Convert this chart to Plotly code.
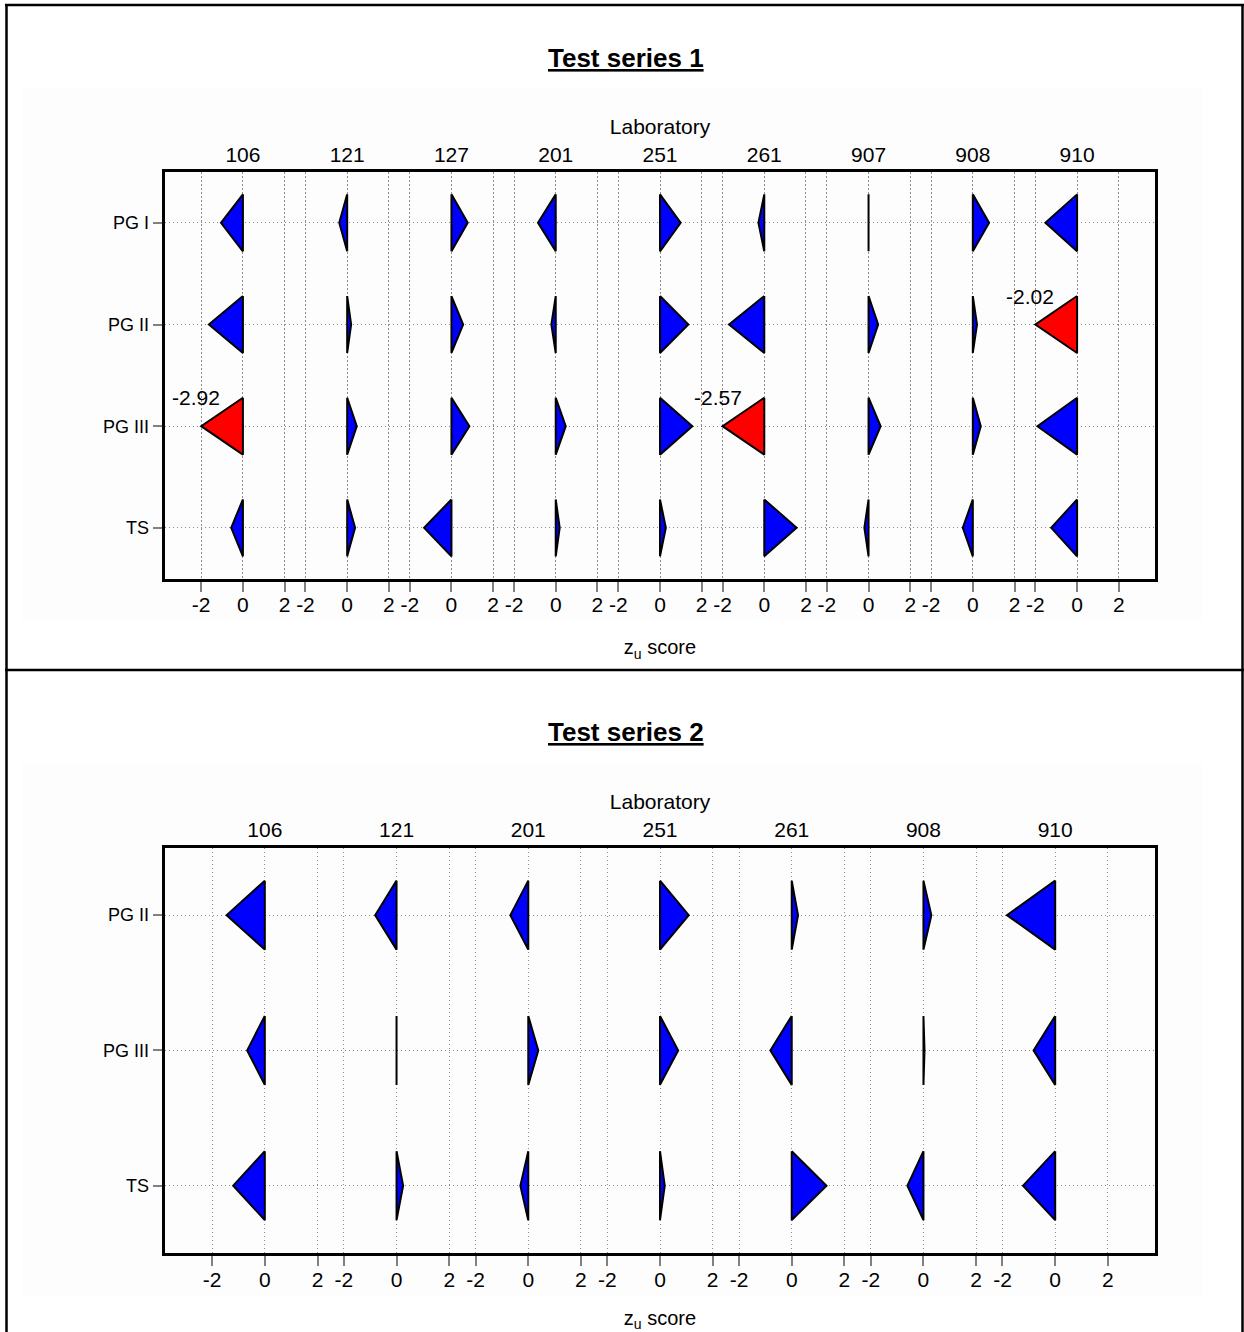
import plotly.graph_objects as go

# ---------------- data ----------------
labs_1 = ["106", "121", "127", "201", "251", "261", "907", "908", "910"]
rows_1 = ["PG I", "PG II", "PG III", "TS"]
ts1_pg1 = [-1.05, -0.38, 0.78, -0.85, 0.99, -0.28, 0.00, 0.78, -1.52]
ts1_pg2 = [-1.63, 0.19, 0.56, -0.21, 1.36, -1.69, 0.46, 0.20, -2.02]
ts1_pg3 = [-2.92, 0.46, 0.86, 0.48, 1.55, -2.57, 0.58, 0.38, -1.90]
ts1_ts = [-0.56, 0.38, -1.31, 0.19, 0.28, 1.55, -0.20, -0.48, -1.24]

labs_2 = ["106", "121", "201", "251", "261", "908", "910"]
rows_2 = ["PG II", "PG III", "TS"]
ts2_pg2 = [-1.45, -0.81, -0.68, 1.09, 0.24, 0.30, -1.83]
ts2_pg3 = [-0.67, 0.00, 0.38, 0.69, -0.81, 0.04, -0.82]
ts2_ts = [-1.20, 0.25, -0.30, 0.18, 1.32, -0.61, -1.22]

z_ticks = [-2, 0, 2]
limit = 2.0

# ---------------- style ----------------
W, H = 1244, 1332
FONT = "Liberation Sans, Arial, sans-serif"
BLUE = "#0000FF"
RED = "#FF0000"
GRID = "#8c8c8c"
GRID_DASH = "1.5px,2.5px"
SPACING = 5  # z units between laboratory columns

fig = go.Figure()
annotations = []


def px_x(p):
    return p / W


def px_y(p):
    return 1 - p / H


def build_panel(idx, labs, rows, series, half_h, x_pad, ydom):
    xa = "x" if idx == 1 else "x2"
    ya = "y" if idx == 1 else "y2"
    xtop = "x3" if idx == 1 else "x4"
    polys = {BLUE: ([], []), RED: ([], [])}
    for r, vals in enumerate(series):
        for i, z in enumerate(vals):
            off = i * SPACING
            zc = max(-limit, min(limit, z))
            col = RED if abs(z) > limit else BLUE
            xs, ys = polys[col]
            xs += [off, off + zc, off, off, None]
            ys += [r - half_h, r, r + half_h, r - half_h, None]
            if abs(z) > limit:
                annotations.append(dict(
                    x=off + zc, y=r - half_h, xref=xa, yref=ya,
                    text=f"{z:.2f}", showarrow=False, xanchor="center",
                    yanchor="middle", xshift=-5,
                    font=dict(family=FONT, size=21, color="black")))
    for col, (xs, ys) in polys.items():
        if xs:
            fig.add_trace(go.Scatter(
                x=xs, y=ys, xaxis=xa, yaxis=ya, mode="lines", fill="toself",
                fillcolor=col, line=dict(color="black", width=2),
                hoverinfo="skip", showlegend=False))
    # invisible helper trace so the top laboratory axis is drawn
    fig.add_trace(go.Scatter(x=[0], y=[0], xaxis=xtop, yaxis=ya, mode="markers",
                             marker=dict(opacity=0), hoverinfo="skip",
                             showlegend=False))
    n = len(labs)
    xr = [-x_pad, (n - 1) * SPACING + x_pad]
    tickvals, ticktext = [], []
    for i in range(n):
        for t in z_ticks:
            tickvals.append(i * SPACING + t)
            ticktext.append(str(t))
    xdom = [px_x(164.7), px_x(1155.3)]
    axis_font = dict(family=FONT, size=21, color="black")
    fig.layout["xaxis" if idx == 1 else "xaxis2"] = dict(
        domain=xdom, anchor=ya, range=xr, tickmode="array",
        tickvals=tickvals, ticktext=ticktext, ticks="outside", ticklen=10,
        tickwidth=2, tickcolor="#808080", ticklabelstandoff=-5,
        showgrid=True, gridcolor=GRID,
        griddash=GRID_DASH, gridwidth=1, showline=True, linewidth=3,
        linecolor="black", mirror=True, zeroline=False, tickfont=axis_font,
        title=dict(text="z<sub>u</sub> score", standoff=26,
                   font=dict(family=FONT, size=20, color="black")))
    fig.layout["xaxis3" if idx == 1 else "xaxis4"] = dict(
        overlaying=xa, side="top", anchor=ya, range=xr, tickmode="array",
        tickvals=[i * SPACING for i in range(n)], ticktext=labs,
        ticks="outside", ticklen=1, tickcolor="rgba(0,0,0,0)",
        showgrid=False, showline=False, zeroline=False,
        tickfont=axis_font,
        title=dict(text="Laboratory", standoff=2, font=axis_font))
    ny = len(rows)
    fig.layout["yaxis" if idx == 1 else "yaxis2"] = dict(
        domain=ydom, anchor=xa, range=[ny - 0.5, -0.5], tickmode="array",
        tickvals=list(range(ny)), ticktext=rows, ticks="outside", ticklen=9,
        tickwidth=2, tickcolor="#808080", showgrid=True, gridcolor=GRID,
        griddash=GRID_DASH, gridwidth=1, showline=True, linewidth=3,
        linecolor="black", mirror=True, zeroline=False,
        tickfont=dict(family=FONT, size=18, color="black"))


build_panel(1, labs_1, rows_1, [ts1_pg1, ts1_pg2, ts1_pg3, ts1_ts], 0.28, 3.75,
            [px_y(578.7), px_y(172)])
build_panel(2, labs_2, rows_2, [ts2_pg2, ts2_pg3, ts2_ts], 0.255, 3.8,
            [px_y(1253.3), px_y(847.5)])

# titles
for text, yc in [("Test series 1", 58), ("Test series 2", 732)]:
    annotations.append(dict(
        x=px_x(626), y=px_y(yc), xref="paper", yref="paper",
        text=f"<b><u>{text}</u></b>", showarrow=False, xanchor="center",
        yanchor="middle", font=dict(family=FONT, size=26, color="black")))

shapes = [
    # very light panel backgrounds
    dict(type="rect", xref="paper", yref="paper", x0=px_x(22), x1=px_x(1203),
         y0=px_y(621), y1=px_y(88), fillcolor="#fdfdfe", line=dict(width=0),
         layer="below"),
    dict(type="rect", xref="paper", yref="paper", x0=px_x(22), x1=px_x(1203),
         y0=px_y(1296), y1=px_y(763), fillcolor="#fdfdfe", line=dict(width=0),
         layer="below"),
    # outer frame
    dict(type="line", xref="paper", yref="paper", x0=px_x(6.5), x1=px_x(6.5),
         y0=px_y(5), y1=-0.05, line=dict(color="black", width=2.5)),
    dict(type="line", xref="paper", yref="paper", x0=px_x(1242.5), x1=px_x(1242.5),
         y0=px_y(5), y1=-0.05, line=dict(color="black", width=2.5)),
    dict(type="line", xref="paper", yref="paper", x0=px_x(5), x1=1.01,
         y0=px_y(5), y1=px_y(5), line=dict(color="black", width=2.5)),
    dict(type="line", xref="paper", yref="paper", x0=px_x(5), x1=1.01,
         y0=px_y(670), y1=px_y(670), line=dict(color="black", width=2.5)),
]

fig.update_layout(
    width=W, height=H, autosize=False,
    margin=dict(l=0, r=0, t=0, b=0, pad=0),
    paper_bgcolor="white", plot_bgcolor="white",
    showlegend=False, annotations=annotations, shapes=shapes,
    font=dict(family=FONT, color="black"),
)

fig.write_html("out.html")
